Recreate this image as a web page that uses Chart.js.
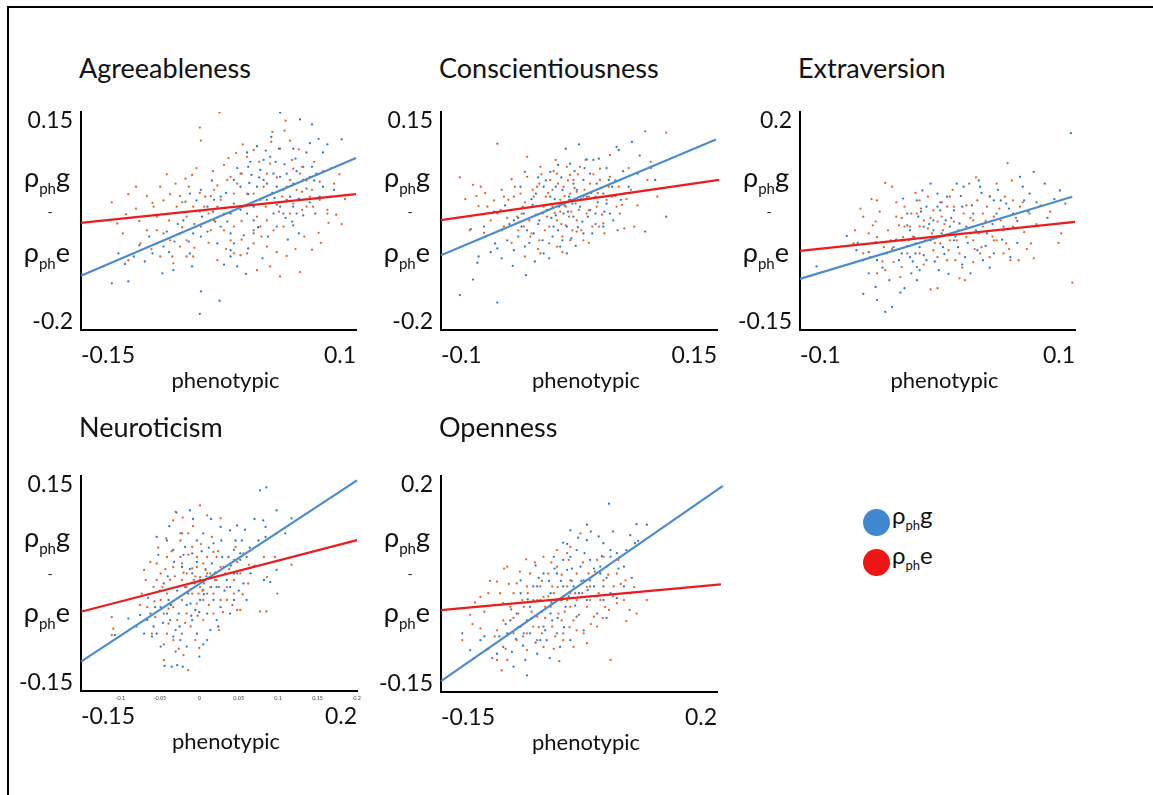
<!DOCTYPE html>
<html><head><meta charset="utf-8">
<script src="https://cdn.jsdelivr.net/npm/chart.js@4.4.0/dist/chart.umd.min.js"></script>
<style>
html,body{margin:0;padding:0;background:#fff;}
body{width:1153px;height:795px;position:relative;overflow:hidden;font-family:Lato,"Open Sans","DejaVu Sans",sans-serif;color:#111;}
.frame{position:absolute;left:7px;top:6px;width:1170px;height:820px;border-top:2px solid #000;border-left:2px solid #000;}
.title{position:absolute;font-size:27px;line-height:32px;white-space:nowrap;}
.rl{position:absolute;width:70px;text-align:right;font-size:27px;line-height:32px;white-space:nowrap;}
.rl .sb,.lg .sb{position:relative;}
.rl .sb{font-size:15px;top:7px;}
.dash{position:absolute;width:20px;text-align:center;font-size:14px;line-height:16px;}
.xt{position:absolute;width:200px;text-align:center;font-size:22px;line-height:26px;white-space:nowrap;}
.dot{position:absolute;width:27px;height:27px;border-radius:50%;}
.lg{position:absolute;font-size:24px;line-height:29px;white-space:nowrap;}
.lg .sb{font-size:13px;top:6px;}
canvas{position:absolute;}
</style></head>
<body>
<div class="frame"></div>
<script>
// ---------- DATA ----------
const titles = ['Agreeableness','Conscientiousness','Extraversion','Neuroticism','Openness'];
const xAxisTitle = 'phenotypic';

const agreeXRange = [-0.15, 0.1],  agreeYRange = [-0.2, 0.15];
const consXRange  = [-0.1, 0.15],  consYRange  = [-0.2, 0.15];
const extraXRange = [-0.1, 0.1],   extraYRange = [-0.15, 0.2];
const neuroXRange = [-0.15, 0.2],  neuroYRange = [-0.15, 0.15];
const openXRange  = [-0.15, 0.2],  openYRange  = [-0.15, 0.2];

const agreeXTicks = ['-0.15','0.1'],  agreeYTicks = ['-0.2','0.15'];
const consXTicks  = ['-0.1','0.15'],  consYTicks  = ['-0.2','0.15'];
const extraXTicks = ['-0.1','0.1'],   extraYTicks = ['-0.15','0.2'];
const neuroXTicks = ['-0.15','0.2'],  neuroYTicks = ['-0.15','0.15'];
const openXTicks  = ['-0.15','0.2'],  openYTicks  = ['-0.15','0.2'];
const neuroMinorTicks = [-0.1,-0.05,0,0.05,0.1,0.15,0.2];

// regression lines [x,y] end points
const agreeLineG = [[-0.15,-0.113],[0.1,0.076]];
const agreeLineE = [[-0.15,-0.028],[0.1,0.018]];
const consLineG  = [[-0.1,-0.080],[0.149,0.106]];
const consLineE  = [[-0.1,-0.0235],[0.152,0.041]];
const extraLineG = [[-0.1,-0.068],[0.098,0.064]];
const extraLineE = [[-0.1,-0.023],[0.1,0.0235]];
const neuroLineG = [[-0.15,-0.109],[0.2,0.144]];
const neuroLineE = [[-0.15,-0.0395],[0.2,0.0605]];
const openLineG  = [[-0.15,-0.1325],[0.2075,0.184]];
const openLineE  = [[-0.15,-0.0173],[0.205,0.0243]];

// scatter points [phenotypic, rho]
const agreeG = [[0.031,0.149],[0.049,0.138],[0.060,0.130],[0.066,0.107],[0.074,0.098],[0.087,0.106],[0.023,0.110],[0.030,0.091],[0.043,0.091],[0.001,0.085],[0.002,0.062],[0.005,0.049],[0.010,0.030],[0.016,0.041],[0.019,0.035],[0.025,0.051],[0.031,0.046],[0.034,0.025],[0.040,0.014],[0.043,-0.002],[0.046,-0.013],[0.042,-0.026],[0.043,-0.032],[0.052,-0.016],[0.063,-0.013],[0.067,0.014],[0.060,0.062],[0.052,0.041],[0.037,0.009],[0.028,0.030],[0.013,0.009],[0.007,-0.002],[0.001,-0.013],[-0.005,-0.007],[-0.011,0.003],[-0.014,-0.013],[-0.017,-0.026],[-0.023,-0.034],[-0.028,-0.026],[-0.035,-0.042],[-0.041,-0.050],[-0.048,-0.045],[-0.052,-0.058],[-0.060,-0.045],[-0.065,-0.058],[-0.072,-0.042],[-0.075,-0.066],[-0.081,-0.061],[-0.085,-0.077],[-0.097,-0.064],[-0.102,-0.082],[-0.116,-0.077],[-0.110,-0.094],[-0.122,-0.125],[-0.107,-0.122],[-0.076,-0.109],[-0.066,-0.104],[-0.049,-0.098],[-0.041,-0.138],[-0.024,-0.153],[-0.042,-0.174],[-0.014,-0.072],[-0.008,-0.098],[0.002,-0.069],[0.007,-0.040],[0.025,-0.013],[0.031,-0.002],[-0.055,0.006],[-0.051,0.019],[-0.041,0.025],[-0.035,-0.002],[-0.023,0.014],[-0.005,0.030],[0.002,0.018],[0.019,0.009],[0.028,-0.034],[0.007,-0.024],[-0.014,-0.045],[-0.026,-0.061],[-0.057,-0.024],[-0.051,-0.077],[-0.014,-0.082],[-0.011,-0.061],[-0.029,0.009],[0.037,0.051],[0.052,0.062],[0.043,0.035],[0.013,0.057],[0.016,0.073],[0.022,0.078],[0.055,0.027],[0.048,0.011],[0.034,-0.013],[0.064,0.051],[-0.004,0.051],[-0.011,0.041],
  [0.010,0.095],[0.018,0.088],[0.027,0.070],[0.035,0.066],[0.045,0.075],[0.055,0.085],[0.062,0.040],[0.070,0.030],[0.058,0.005],[0.048,-0.045],[0.038,-0.055],[0.020,-0.050],[0.012,0.045],[0.004,0.070],[-0.008,0.060],[-0.018,0.020],[-0.030,-0.010],[-0.040,-0.018],[-0.047,-0.030],[-0.062,-0.030],[-0.070,-0.075],[-0.088,-0.050],[-0.092,-0.090],[-0.130,-0.098],[-0.020,-0.095],[0.000,-0.110],[0.015,-0.085],[0.024,0.020],[0.036,-0.020],[0.058,0.100],[0.070,0.085],[0.078,0.060],[-0.031,0.040],[-0.045,0.008],[0.011,-0.035],[0.046,0.055],[0.026,0.012],[0.003,0.036],[-0.002,-0.048],[0.080,0.025]];
const agreeE = [[-0.024,0.149],[-0.042,0.125],[-0.041,0.104],[0.036,0.136],[-0.107,0.018],[-0.122,0.005],[-0.109,-0.014],[-0.117,-0.029],[-0.107,-0.088],[-0.097,-0.025],[-0.085,0.004],[-0.078,0.030],[-0.069,0.018],[-0.060,0.015],[-0.055,0.043],[-0.049,0.049],[-0.042,0.020],[-0.042,-0.010],[-0.037,0.014],[-0.032,0.015],[-0.026,0.032],[-0.023,0.009],[-0.014,0.046],[-0.009,0.084],[-0.016,0.076],[-0.005,0.051],[0.001,0.019],[0.007,0.019],[0.016,0.030],[0.023,0.102],[0.024,0.118],[0.031,0.091],[0.040,0.104],[0.042,0.073],[0.043,0.059],[0.051,0.062],[0.058,0.014],[0.067,0.038],[0.075,-0.028],[0.087,-0.030],[0.066,-0.044],[0.060,-0.071],[0.049,-0.107],[0.031,-0.114],[0.037,-0.081],[0.019,-0.066],[0.007,-0.045],[0.001,-0.077],[-0.005,-0.080],[-0.011,-0.077],[-0.014,-0.056],[-0.020,-0.040],[-0.029,-0.024],[-0.034,-0.013],[-0.041,-0.034],[-0.054,-0.056],[-0.060,-0.066],[-0.069,-0.056],[-0.075,-0.045],[-0.081,-0.018],[-0.090,-0.040],[-0.096,-0.061],[-0.078,-0.082],[-0.067,-0.082],[-0.054,-0.082],[-0.048,-0.082],[-0.066,-0.093],[-0.026,-0.088],[0.010,-0.104],[0.022,-0.098],[0.034,-0.034],[0.040,-0.013],[0.043,0.003],[0.051,-0.007],[0.055,-0.002],[-0.011,0.019],[-0.008,0.035],[0.004,0.003],[0.010,-0.018],[0.018,-0.002],[0.028,0.001],[0.033,0.014],[0.037,0.030],[0.046,0.025],[0.051,0.022],[0.061,-0.002],[0.067,0.009],[0.074,-0.013],[0.013,-0.034],[0.019,-0.024],[0.025,-0.040],[0.007,-0.061],[-0.011,-0.034],[-0.020,-0.013],[-0.026,-0.002],[-0.038,-0.002],[-0.048,-0.002],[-0.054,-0.018],[-0.063,-0.002],[-0.070,-0.024],[-0.081,-0.040],[-0.084,-0.002],[0.019,0.051],[0.022,0.067],[-0.017,0.041],[0.001,0.078],[-0.029,0.025],[0.007,0.089],[0.040,0.041],[0.049,0.051],[0.058,0.046],[0.074,-0.007],[0.077,0.014],
  [-0.100,0.030],[-0.090,0.015],[-0.072,0.050],[-0.064,0.035],[-0.052,0.030],[-0.045,0.060],[-0.030,0.055],[-0.020,0.065],[-0.003,0.098],[0.012,0.070],[0.028,0.045],[0.035,0.120],[0.048,0.090],[0.055,0.040],[0.062,0.070],[0.070,0.055],[0.080,0.035],[0.090,0.010],[0.082,-0.015],[0.068,-0.060],[0.053,-0.050],[0.045,-0.070],[0.028,-0.075],[0.014,-0.050],[-0.004,-0.055],[-0.018,-0.070],[-0.034,-0.060],[-0.047,-0.068],[-0.058,-0.035],[-0.086,-0.070],[-0.112,-0.045],[-0.100,-0.005],[-0.075,0.008],[-0.058,0.005],[-0.032,-0.040],[-0.004,-0.025],[0.015,0.012],[0.030,-0.010],[0.060,0.025],[0.085,0.050]];

const consG = [[-0.083,-0.144],[-0.071,-0.119],[-0.049,-0.156],[-0.023,-0.112],[-0.035,-0.097],[-0.066,-0.082],[-0.067,-0.092],[-0.051,-0.061],[-0.049,-0.069],[-0.061,-0.034],[-0.073,-0.038],[-0.045,-0.040],[-0.040,-0.056],[-0.034,-0.072],[-0.030,-0.050],[-0.025,-0.013],[-0.022,-0.040],[-0.017,0.001],[-0.014,0.019],[-0.011,-0.024],[-0.008,-0.056],[-0.007,0.030],[-0.004,-0.007],[-0.001,0.014],[0.002,-0.034],[0.004,0.030],[0.007,-0.002],[0.008,-0.066],[0.010,0.025],[0.011,-0.013],[0.013,0.091],[0.014,-0.034],[0.016,0.014],[0.018,-0.053],[0.019,0.003],[0.020,-0.018],[0.023,0.025],[0.025,0.098],[0.026,-0.002],[0.028,-0.026],[0.032,0.074],[0.032,0.014],[0.035,-0.007],[0.037,-0.045],[0.038,0.073],[0.041,0.035],[0.043,0.075],[0.047,-0.034],[0.052,0.041],[0.053,-0.013],[0.056,-0.024],[0.059,0.094],[0.061,0.089],[0.063,0.009],[0.073,0.102],[0.078,0.051],[0.085,-0.042],[0.094,0.041],[0.104,-0.018],[-0.024,0.054],[-0.002,-0.085],[-0.024,-0.066],[-0.016,-0.045],[0.004,-0.016],[0.017,0.009],[0.029,0.041],[0.035,0.051],[0.047,0.019],[0.055,0.030],[0.066,0.019],[0.020,0.035],[0.010,-0.056],[-0.007,-0.077],[-0.027,-0.034],[-0.034,-0.024],[0.017,0.067],[-0.001,0.054],[0.040,-0.013],[0.050,0.003],[0.029,-0.045],[0.014,-0.077],
  [-0.060,-0.050],[-0.055,-0.075],[-0.045,-0.085],[-0.038,-0.030],[-0.030,-0.020],[-0.020,-0.060],[-0.018,0.010],[-0.012,-0.030],[-0.005,0.040],[0.000,-0.020],[0.003,0.010],[0.006,-0.040],[0.009,0.045],[0.012,0.000],[0.015,-0.010],[0.021,0.055],[0.024,-0.035],[0.027,0.010],[0.030,0.060],[0.033,-0.018],[0.036,0.020],[0.042,0.005],[0.045,0.028],[0.050,0.060],[0.058,0.040],[0.065,0.055],[0.070,0.030],[0.080,0.080],[0.090,0.060],[-0.042,0.000],[-0.028,0.030],[-0.012,0.045],[0.001,-0.050],[0.022,-0.065],[0.040,-0.030],[-0.052,-0.010],[0.048,-0.010],[0.060,-0.040],[-0.015,-0.090],[0.006,0.065]];
const consE = [[-0.083,0.045],[-0.049,0.099],[0.085,0.119],[0.104,0.117],[-0.071,0.033],[-0.064,0.030],[-0.066,-0.001],[-0.074,-0.040],[-0.061,-0.044],[-0.055,-0.024],[-0.046,-0.007],[-0.043,-0.034],[-0.039,0.009],[-0.036,0.042],[-0.031,-0.018],[-0.028,0.019],[-0.026,-0.002],[-0.025,-0.034],[-0.022,0.046],[-0.020,-0.024],[-0.018,-0.045],[-0.013,0.030],[-0.011,-0.056],[-0.010,0.062],[-0.008,-0.013],[-0.005,0.014],[-0.002,-0.034],[-0.001,0.041],[0.001,-0.002],[0.004,0.073],[0.005,-0.024],[0.008,0.009],[0.010,-0.050],[0.011,0.030],[0.013,-0.002],[0.014,0.062],[0.016,-0.018],[0.017,0.019],[0.019,-0.040],[0.020,0.041],[0.022,0.003],[0.023,-0.024],[0.026,0.062],[0.029,0.014],[0.031,0.073],[0.032,-0.013],[0.035,0.035],[0.037,-0.034],[0.040,0.014],[0.044,0.041],[0.047,-0.029],[0.053,0.081],[0.055,0.014],[0.059,-0.002],[0.062,-0.013],[0.066,-0.037],[0.075,-0.034],[0.087,0.041],[0.096,0.014],[-0.010,-0.077],[-0.002,-0.061],[-0.024,-0.082],[0.005,-0.066],[0.017,-0.056],[0.029,-0.056],[-0.016,0.014],[-0.034,0.014],[-0.049,-0.013],[-0.058,-0.002],[-0.027,-0.013],[-0.007,-0.002],[0.008,-0.010],[0.016,0.009],[0.025,-0.007],[0.034,0.014],[0.041,-0.002],[0.050,0.009],[0.064,0.001],[0.005,0.051],[0.017,0.049],[-0.022,0.078],[-0.011,0.035],[0.001,0.025],[0.023,0.022],[0.044,0.059],[0.053,0.046],[-0.043,0.014],[0.061,0.030],[0.072,0.025],[0.043,-0.034],[-0.019,-0.050],[-0.004,-0.018],[0.013,-0.032],[0.023,-0.042],
  [-0.078,0.010],[-0.068,0.015],[-0.060,0.020],[-0.052,0.008],[-0.045,0.025],[-0.040,-0.020],[-0.033,0.030],[-0.030,-0.040],[-0.024,0.005],[-0.017,0.025],[-0.014,-0.015],[-0.009,0.050],[-0.006,-0.040],[-0.003,0.020],[0.002,0.055],[0.003,-0.012],[0.006,0.035],[0.009,-0.030],[0.012,0.015],[0.015,0.040],[0.018,-0.010],[0.021,0.028],[0.024,0.050],[0.027,-0.040],[0.030,0.025],[0.034,-0.008],[0.038,0.050],[0.042,0.020],[0.046,-0.015],[0.052,0.030],[0.058,0.015],[0.068,0.010],[0.078,0.000],[0.090,0.070],[0.070,0.060],[-0.036,-0.060],[-0.012,-0.070],[0.010,-0.075],[0.034,-0.060],[0.048,-0.045]];

const extraG = [[-0.066,0.001],[-0.059,-0.022],[-0.054,-0.038],[-0.050,-0.059],[-0.045,-0.081],[-0.054,-0.092],[-0.044,-0.102],[-0.038,-0.121],[-0.033,-0.113],[-0.024,-0.083],[-0.019,-0.059],[-0.015,-0.049],[-0.013,-0.054],[-0.044,-0.038],[-0.037,-0.027],[-0.032,-0.017],[-0.028,-0.038],[-0.026,-0.006],[-0.025,0.061],[-0.022,0.037],[-0.020,-0.033],[-0.017,-0.001],[-0.014,0.032],[-0.013,-0.017],[-0.010,0.016],[-0.008,0.048],[-0.005,-0.006],[-0.003,0.026],[0.000,0.069],[0.001,-0.054],[0.002,0.042],[0.004,-0.017],[0.007,0.064],[0.009,0.016],[0.012,-0.006],[0.014,0.085],[0.015,-0.017],[0.018,0.048],[0.019,0.080],[0.021,0.016],[0.024,-0.059],[0.029,-0.022],[0.031,0.080],[0.033,-0.038],[0.036,0.005],[0.038,0.064],[0.041,0.058],[0.043,0.037],[0.046,0.058],[0.048,0.016],[0.050,0.053],[0.053,-0.033],[0.055,0.037],[0.060,0.096],[0.063,0.058],[0.067,0.069],[0.070,0.104],[0.089,0.074],[0.093,0.053],[0.097,0.166],[-0.088,-0.048],[0.000,0.048],[-0.022,0.018],[-0.008,-0.038],[0.012,0.042],[0.026,0.037],[-0.015,0.058],[0.006,0.026],[0.020,-0.033],[0.041,-0.027],[-0.016,-0.027],[-0.003,0.010],[0.016,0.021],[-0.026,-0.027],[-0.011,0.074],[0.003,0.005],
  [-0.058,-0.010],[-0.050,-0.025],[-0.040,-0.050],[-0.035,-0.070],[-0.030,-0.005],[-0.027,-0.090],[-0.020,0.010],[-0.018,-0.040],[-0.012,0.040],[-0.010,-0.030],[-0.006,0.020],[-0.002,-0.040],[0.003,0.055],[0.005,-0.028],[0.010,0.030],[0.013,0.000],[0.017,0.065],[0.022,-0.010],[0.025,0.050],[0.028,0.010],[0.032,0.070],[0.035,-0.015],[0.040,0.020],[0.044,0.075],[0.047,-0.005],[0.052,0.045],[0.058,0.025],[0.062,0.080],[0.066,0.040],[0.072,0.055],[0.078,0.085],[0.080,0.030],[0.085,0.060],[-0.005,0.085],[0.008,-0.060],[0.018,-0.045],[0.038,-0.050],[-0.015,-0.070],[0.058,-0.010],[0.030,0.090]];
const extraE = [[-0.038,0.086],[-0.033,0.080],[-0.044,0.058],[-0.054,0.032],[-0.060,0.010],[-0.045,0.024],[-0.044,-0.001],[-0.045,-0.009],[-0.054,-0.027],[-0.049,-0.033],[-0.044,-0.059],[-0.038,-0.054],[-0.032,-0.041],[-0.027,-0.065],[-0.026,-0.049],[-0.022,-0.027],[-0.030,0.032],[-0.028,0.018],[-0.024,0.048],[-0.020,0.016],[-0.015,0.037],[-0.013,0.058],[-0.010,0.026],[-0.009,-0.006],[-0.007,0.013],[-0.003,0.042],[0.000,0.024],[0.000,-0.033],[0.002,-0.011],[0.004,0.010],[0.007,0.048],[0.009,0.064],[0.012,0.024],[0.014,-0.006],[0.016,-0.027],[0.019,0.037],[0.023,0.085],[0.024,0.005],[0.026,0.026],[0.029,0.058],[0.032,-0.017],[0.033,0.016],[0.036,0.048],[0.041,-0.006],[0.043,0.085],[0.046,0.026],[0.049,0.064],[0.050,-0.011],[0.051,0.118],[0.054,0.090],[0.055,0.016],[0.060,0.048],[0.063,0.007],[0.067,0.037],[0.070,-0.035],[0.068,-0.011],[0.090,0.005],[0.098,-0.074],[-0.005,-0.085],[0.000,-0.083],[0.016,-0.067],[0.020,-0.070],[-0.021,-0.006],[-0.016,-0.011],[-0.013,-0.027],[-0.003,-0.022],[0.007,-0.038],[0.013,-0.038],[0.026,-0.041],[0.031,-0.027],[0.038,-0.033],[0.043,-0.006],[-0.039,-0.017],[-0.034,-0.006],[-0.025,-0.001],[-0.019,0.037],[-0.004,0.005],[0.003,0.032],[0.009,-0.006],[0.021,-0.001],[0.033,0.037],[0.041,0.032],[0.048,-0.027],[0.053,-0.038],[0.059,-0.038],[-0.013,0.016],[-0.007,0.064],[0.012,0.048],[0.026,-0.006],[0.055,0.058],[-0.024,0.016],[-0.047,0.018],[-0.061,-0.011],
  [-0.056,0.045],[-0.050,0.005],[-0.042,0.040],[-0.040,-0.040],[-0.036,0.010],[-0.033,-0.020],[-0.030,0.055],[-0.026,0.030],[-0.022,-0.015],[-0.018,0.000],[-0.016,0.070],[-0.012,0.045],[-0.010,-0.045],[-0.005,0.030],[-0.002,-0.010],[0.002,0.055],[0.005,0.020],[0.008,-0.022],[0.011,0.075],[0.015,0.010],[0.018,-0.050],[0.021,0.050],[0.024,0.030],[0.027,-0.020],[0.030,0.005],[0.035,0.025],[0.038,0.065],[0.040,0.000],[0.045,0.045],[0.048,0.010],[0.052,-0.020],[0.057,0.030],[0.062,0.055],[0.065,-0.020],[0.072,0.020],[0.075,0.050],[0.082,0.040],[0.088,-0.010],[-0.048,0.060],[0.028,0.095]];

const neuroG = [[0.077,0.130],[0.085,0.134],[-0.029,0.099],[-0.012,0.102],[-0.054,0.065],[-0.041,0.060],[-0.033,0.047],[-0.018,0.051],[-0.009,0.042],[-0.003,0.060],[0.005,0.070],[0.018,0.056],[0.027,0.079],[0.039,0.074],[0.048,0.081],[0.052,0.042],[0.060,0.037],[0.081,0.088],[0.084,0.079],[0.084,0.065],[0.098,0.102],[0.098,0.070],[0.109,0.070],[0.117,0.091],[0.082,0.005],[0.090,0.002],[0.098,0.019],[-0.090,-0.049],[-0.070,-0.070],[-0.062,-0.042],[-0.060,-0.074],[-0.054,-0.070],[-0.049,-0.033],[-0.045,0.000],[-0.039,-0.023],[-0.037,-0.051],[-0.033,-0.074],[-0.030,-0.065],[-0.026,-0.042],[-0.024,-0.079],[-0.021,-0.116],[-0.028,-0.114],[-0.035,-0.116],[-0.044,-0.115],[-0.018,-0.005],[-0.014,-0.014],[-0.009,-0.051],[-0.005,-0.037],[0.000,-0.102],[0.001,-0.023],[0.005,-0.009],[0.010,-0.042],[0.014,-0.065],[0.018,-0.023],[0.022,-0.005],[0.027,-0.033],[0.031,0.023],[0.035,0.005],[0.039,-0.005],[0.044,-0.023],[0.048,0.014],[0.052,0.033],[0.056,0.000],[0.060,-0.023],[0.065,0.014],[-0.107,-0.072],[-0.075,-0.044],[-0.066,-0.051],[-0.056,-0.033],[-0.041,-0.042],[-0.011,-0.028],[0.001,0.005],[0.008,0.019],[0.016,0.028],[0.029,0.037],[0.037,0.037],[0.044,0.047],[0.054,0.060],[0.069,0.023],[0.039,-0.042],[-0.003,-0.070],[0.010,-0.079],[-0.016,-0.088],[-0.049,-0.088],[0.022,-0.051],[0.044,0.014],[-0.009,0.014],[-0.022,0.023],
  [-0.065,-0.020],[-0.058,-0.060],[-0.050,-0.010],[-0.046,-0.055],[-0.040,0.010],[-0.036,-0.030],[-0.032,0.030],[-0.028,-0.010],[-0.025,-0.060],[-0.020,0.040],[-0.016,-0.030],[-0.012,0.020],[-0.010,-0.045],[-0.006,0.000],[-0.003,0.030],[0.000,-0.040],[0.003,0.045],[0.006,-0.015],[0.009,0.010],[0.012,0.050],[0.015,-0.005],[0.020,0.015],[0.024,-0.060],[0.028,0.060],[0.032,-0.010],[0.040,0.025],[0.046,0.060],[0.050,-0.010],[0.058,0.075],[0.064,0.050],[0.070,0.090],[0.075,0.060],[-0.052,0.040],[-0.038,0.080],[-0.022,0.070],[-0.008,0.090],[0.015,0.090],[-0.080,-0.060],[-0.030,-0.095],[0.005,-0.085]];
const neuroE = [[0.001,0.109],[-0.021,0.092],[-0.033,0.088],[0.027,0.091],[-0.042,0.063],[-0.024,0.060],[-0.014,0.070],[-0.009,0.051],[-0.003,0.037],[-0.070,0.019],[-0.054,0.028],[-0.041,0.037],[-0.033,0.023],[-0.022,0.028],[-0.016,0.014],[-0.009,0.021],[-0.003,0.023],[0.001,0.009],[0.005,0.028],[0.010,0.037],[0.014,0.014],[0.018,0.044],[0.022,0.005],[0.027,0.023],[0.035,-0.005],[0.044,0.033],[0.052,0.014],[0.063,0.026],[0.082,0.037],[0.086,0.009],[0.096,0.037],[0.099,-0.014],[0.117,0.026],[-0.073,-0.014],[-0.066,-0.033],[-0.058,-0.005],[-0.049,-0.023],[-0.045,-0.042],[-0.041,-0.014],[-0.033,-0.033],[-0.028,-0.051],[-0.022,-0.023],[-0.016,-0.042],[-0.009,-0.014],[-0.003,-0.028],[0.001,-0.005],[0.005,-0.023],[0.010,-0.014],[0.018,-0.014],[0.027,-0.023],[0.035,-0.023],[0.044,-0.014],[0.048,-0.037],[0.052,-0.037],[0.077,-0.039],[0.085,-0.039],[-0.041,-0.070],[-0.033,-0.079],[-0.045,-0.107],[-0.026,-0.091],[-0.014,-0.121],[-0.111,-0.047],[-0.109,-0.063],[-0.111,-0.072],[-0.022,0.005],[-0.007,0.005],[0.006,0.000],[-0.001,-0.014],[0.014,-0.005],[0.025,-0.005],[0.033,0.014],[0.044,0.005],[-0.054,0.005],[-0.037,0.005],[-0.028,-0.005],[-0.049,0.014],[-0.016,-0.005],[-0.024,0.037],[0.010,0.014],[0.022,0.037],[0.046,0.051],[0.056,0.042],[-0.011,-0.060],[-0.005,-0.079],[0.005,-0.051],[0.018,-0.042],[-0.039,-0.056],[-0.022,-0.070],[-0.056,-0.047],
  [-0.068,0.005],[-0.062,0.030],[-0.057,-0.025],[-0.052,0.050],[-0.047,-0.005],[-0.043,0.020],[-0.039,-0.035],[-0.035,0.045],[-0.031,0.010],[-0.027,-0.020],[-0.024,0.070],[-0.020,0.015],[-0.018,-0.055],[-0.014,0.040],[-0.011,-0.008],[-0.008,0.080],[-0.005,0.010],[-0.002,-0.045],[0.002,0.055],[0.004,-0.010],[0.008,0.020],[0.012,-0.030],[0.016,0.065],[0.020,0.005],[0.024,0.045],[0.030,-0.040],[0.038,0.020],[0.042,-0.030],[0.048,0.030],[0.055,-0.015],[0.062,0.000],[0.070,0.025],[-0.075,-0.030],[-0.060,-0.070],[-0.045,-0.085],[-0.020,-0.100],[0.000,-0.090],[0.025,-0.065],[-0.030,0.100],[0.010,0.095]];

const openG = [[0.063,0.155],[0.035,0.121],[0.014,0.112],[0.005,0.092],[0.035,0.096],[0.050,0.102],[0.065,0.080],[0.090,0.104],[0.098,0.122],[0.111,0.121],[0.096,0.091],[0.065,0.069],[0.073,0.075],[0.082,0.053],[0.052,0.042],[0.039,0.064],[0.022,0.080],[0.014,0.069],[0.010,0.048],[-0.003,0.042],[0.005,0.021],[0.031,0.031],[0.056,0.021],[0.073,0.002],[0.003,-0.001],[-0.005,-0.001],[-0.011,-0.023],[-0.020,-0.044],[-0.024,-0.001],[-0.028,0.021],[-0.037,-0.012],[-0.041,-0.034],[-0.045,-0.055],[-0.049,-0.044],[-0.055,-0.064],[-0.062,-0.034],[-0.066,-0.055],[-0.071,-0.077],[-0.079,-0.088],[-0.090,-0.080],[-0.100,-0.066],[-0.113,-0.082],[-0.123,-0.055],[-0.109,-0.096],[-0.058,-0.109],[-0.041,-0.123],[-0.043,-0.098],[-0.028,-0.088],[-0.016,-0.066],[-0.003,-0.055],[0.014,-0.066],[0.022,-0.028],[0.035,-0.001],[0.048,-0.023],[0.056,-0.001],[0.065,0.010],[0.039,0.031],[0.018,0.021],[-0.011,0.010],[-0.020,0.042],[-0.033,0.021],[-0.049,0.010],[-0.061,-0.016],[-0.054,-0.023],[-0.037,-0.055],[-0.009,-0.034],[0.008,-0.012],[0.025,0.010],[0.044,0.021],[0.027,0.053],[-0.007,0.069],[0.014,0.031],[-0.049,0.031],[0.056,0.091],[0.082,0.021],[-0.024,-0.066],[0.001,-0.077],[0.031,-0.050],[0.052,0.053],[0.005,0.064],
  [-0.095,-0.060],[-0.085,-0.095],[-0.076,-0.060],[-0.068,-0.040],[-0.060,-0.085],[-0.052,-0.045],[-0.046,-0.075],[-0.040,0.000],[-0.035,-0.030],[-0.030,-0.070],[-0.026,0.035],[-0.022,-0.020],[-0.018,-0.050],[-0.013,0.030],[-0.010,-0.005],[-0.006,0.050],[-0.002,-0.030],[0.002,0.030],[0.006,-0.045],[0.010,0.090],[0.012,0.005],[0.016,0.050],[0.020,-0.010],[0.024,0.100],[0.028,0.030],[0.032,0.075],[0.036,0.015],[0.040,0.110],[0.044,0.050],[0.048,0.005],[0.054,0.070],[0.060,0.035],[0.068,0.110],[0.075,0.050],[0.085,0.080],[0.092,0.035],[0.100,0.095],[0.060,-0.030],[-0.030,0.055],[-0.012,-0.095]];
const openE = [[-0.066,0.053],[-0.042,0.065],[-0.079,0.029],[-0.090,0.010],[-0.100,0.004],[-0.107,-0.005],[-0.113,-0.025],[-0.123,-0.066],[-0.100,-0.047],[-0.079,-0.050],[-0.071,-0.034],[-0.062,-0.012],[-0.058,0.010],[-0.052,-0.023],[-0.047,-0.001],[-0.041,0.021],[-0.037,0.042],[-0.033,-0.001],[-0.028,-0.028],[-0.024,0.021],[-0.022,-0.055],[-0.018,-0.012],[-0.014,0.042],[-0.009,-0.044],[-0.007,0.010],[-0.003,0.053],[-0.001,-0.023],[0.001,-0.001],[0.005,-0.055],[0.010,0.021],[0.012,0.064],[0.014,-0.012],[0.018,-0.034],[0.022,0.042],[0.027,0.107],[0.029,0.010],[0.031,-0.055],[0.035,-0.012],[0.037,0.042],[0.039,0.021],[0.044,-0.028],[0.048,0.064],[0.052,-0.001],[0.056,0.031],[0.058,-0.012],[0.063,-0.017],[0.065,-0.098],[0.069,0.021],[0.073,0.042],[0.075,0.064],[0.082,-0.001],[0.084,0.031],[0.090,0.010],[0.098,-0.023],[0.111,-0.001],[0.089,-0.017],[-0.092,-0.081],[-0.079,-0.098],[-0.073,-0.115],[-0.066,-0.098],[-0.054,-0.066],[-0.041,-0.082],[-0.028,-0.066],[-0.020,-0.077],[-0.007,-0.080],[0.005,-0.066],[0.018,-0.077],[0.035,-0.071],[-0.033,-0.044],[-0.045,-0.012],[-0.054,0.026],[-0.003,0.080],[0.014,0.085],[-0.020,0.069],[0.014,0.010],[0.022,-0.001],[0.039,-0.001],[0.056,0.069],[0.073,-0.006],[-0.058,-0.055],[-0.028,-0.001],[-0.011,-0.012],[0.003,-0.034],[0.022,-0.050],[0.048,-0.044],[-0.071,-0.006],[-0.041,-0.055],[-0.020,0.004],[0.010,-0.001],[-0.009,0.021],[0.060,0.053],
  [-0.110,-0.040],[-0.095,-0.020],[-0.088,0.030],[-0.082,-0.060],[-0.075,0.010],[-0.068,-0.080],[-0.064,0.025],[-0.058,-0.030],[-0.050,0.045],[-0.046,-0.060],[-0.040,0.010],[-0.035,-0.020],[-0.031,0.060],[-0.026,-0.045],[-0.022,0.030],[-0.018,-0.030],[-0.014,0.005],[-0.010,0.060],[-0.005,-0.060],[-0.002,0.020],[0.003,0.040],[0.007,-0.020],[0.010,0.075],[0.013,-0.045],[0.016,0.030],[0.020,0.010],[0.025,-0.025],[0.030,0.060],[0.035,0.020],[0.040,-0.040],[0.045,0.045],[0.050,0.010],[0.055,-0.030],[0.062,0.040],[0.068,0.005],[0.078,0.025],[0.085,-0.035],[0.095,0.020],[-0.070,0.050],[0.000,-0.100]];

// ---------- STYLE ----------
const FONT = 'Lato, "Open Sans", "DejaVu Sans", sans-serif';
const C_BLUE_DOT = '#2f78c2', C_RED_DOT = '#e0622e';
const C_BLUE_LINE = '#4a8ccd', C_RED_LINE = '#ea1c1c';
Chart.defaults.font.family = FONT;

const panels = [
  {t:titles[0], b:{L:81,T:112,R:356,B:330}, row:0, xr:agreeXRange, yr:agreeYRange, xt:agreeXTicks, yt:agreeYTicks, G:agreeG, E:agreeE, lG:agreeLineG, lE:agreeLineE},
  {t:titles[1], b:{L:441,T:112,R:717,B:330}, row:0, xr:consXRange, yr:consYRange, xt:consXTicks, yt:consYTicks, G:consG, E:consE, lG:consLineG, lE:consLineE},
  {t:titles[2], b:{L:800,T:112,R:1075,B:330}, row:0, xr:extraXRange, yr:extraYRange, xt:extraXTicks, yt:extraYTicks, G:extraG, E:extraE, lG:extraLineG, lE:extraLineE},
  {t:titles[3], b:{L:81,T:476,R:357,B:691}, row:1, xr:neuroXRange, yr:neuroYRange, xt:neuroXTicks, yt:neuroYTicks, G:neuroG, E:neuroE, lG:neuroLineG, lE:neuroLineE, minor:neuroMinorTicks},
  {t:titles[4], b:{L:441,T:476,R:717,B:692}, row:1, xr:openXRange, yr:openYRange, xt:openXTicks, yt:openYTicks, G:openG, E:openE, lG:openLineG, lE:openLineE},
];

const pts = a => a.map(p => ({x:p[0], y:p[1]}));

function addDiv(cls, html, left, top) {
  const d = document.createElement('div');
  d.className = cls; d.innerHTML = html;
  d.style.left = left + 'px'; d.style.top = top + 'px';
  document.body.appendChild(d);
  return d;
}

const PADL = 75, PADT = 10, PADR = 14, XH = 45, MINH = 14;
const TICKFONT = {family:FONT, size:23, lineHeight:0.74};

panels.forEach(p => {
  const b = p.b;
  const w = b.R - b.L + PADL + PADR, h = b.B - b.T + PADT + XH;
  const cv = document.createElement('canvas');
  cv.width = w; cv.height = h;
  cv.style.left = (b.L - PADL) + 'px'; cv.style.top = (b.T - PADT) + 'px';
  cv.style.width = w + 'px'; cv.style.height = h + 'px';
  document.body.appendChild(cv);

  const hasMinor = !!p.minor;
  const scales = {
    x: {
      type:'linear', axis:'x', position:'bottom', weight:10, min:p.xr[0], max:p.xr[1],
      grid:{display:false, drawTicks:false},
      border:{display:!hasMinor, color:'#000', width:2},
      afterBuildTicks: s => { s.ticks = [{value:p.xr[0]},{value:p.xr[1]}]; },
      afterFit: s => { s.height = hasMinor ? XH - MINH : XH; s.paddingLeft = 0; s.paddingRight = 0; },
      ticks:{align:'inner', autoSkip:false, maxRotation:0, minRotation:0, padding: hasMinor ? 3.5 : 17.5,
             color:'#111', font:TICKFONT, callback:(v,i) => p.xt[i]}
    },
    y: {
      type:'linear', axis:'y', position:'left', min:p.yr[0], max:p.yr[1],
      grid:{display:false, drawTicks:false},
      border:{display:true, color:'#000', width:2},
      afterBuildTicks: s => { s.ticks = [{value:p.yr[0]},{value:p.yr[1]}]; },
      afterFit: s => { s.width = PADL; s.paddingTop = 0; s.paddingBottom = 0; },
      ticks:{autoSkip:false, padding:8, color:'#111', font:TICKFONT,
             callback:(v,i) => i === 0 ? [p.yt[0], ''] : ['', p.yt[1]]}
    }
  };
  if (hasMinor) {
    scales.x2 = {
      type:'linear', axis:'x', position:'bottom', weight:0, min:p.xr[0], max:p.xr[1],
      grid:{display:false, drawTicks:false},
      border:{display:true, color:'#000', width:2},
      afterBuildTicks: s => { s.ticks = p.minor.map(v => ({value:v})); },
      afterFit: s => { s.height = MINH; s.paddingLeft = 0; s.paddingRight = 0; },
      ticks:{autoSkip:false, maxRotation:0, minRotation:0, padding:3.5, color:'#444',
             font:{family:FONT, size:5.5}, callback:v => String(v)}
    };
  }

  new Chart(cv, {
    type:'scatter',
    data:{datasets:[
      {data:pts(p.lE), showLine:true, borderColor:C_RED_LINE, borderWidth:2.2, pointRadius:0, clip:false},
      {data:pts(p.lG), showLine:true, borderColor:C_BLUE_LINE, borderWidth:2.2, pointRadius:0, clip:false},
      {data:pts(p.E), pointRadius:1.15, backgroundColor:C_RED_DOT, borderWidth:0},
      {data:pts(p.G), pointRadius:1.15, backgroundColor:C_BLUE_DOT, borderWidth:0}
    ]},
    options:{
      responsive:false, animation:false, devicePixelRatio:1, events:[],
      layout:{padding:{top:PADT, right:PADR, left:0, bottom:0}},
      plugins:{legend:{display:false}, tooltip:{enabled:false}, title:{display:false}},
      scales
    }
  });

  // text around the axes
  const tBase = p.row === 0 ? b.T - 33.5 : b.T - 38.5;
  addDiv('title', p.t, b.L - 2, tBase - 26.4);
  const gBase = b.T + (p.row === 0 ? 75 : 71);
  const eBase = b.T + (p.row === 0 ? 150 : 146);
  const dC = b.T + (p.row === 0 ? 101 : 99);
  addDiv('rl', 'ρ<span class="sb">ph</span>g', b.L - 11 - 70, gBase - 26.5);
  addDiv('dash', '-', b.L - 31 - 10, dC - 9.4);
  addDiv('rl', 'ρ<span class="sb">ph</span>e', b.L - 11 - 70, eBase - 26.5);
  addDiv('xt', xAxisTitle, (b.L + b.R) / 2 + 7 - 100, b.B + 58 - 21.5);
});

// legend
const legendItems = [
  {html:'ρ<span class="sb">ph</span>g', color:'#3f88cf', cy:522, base:524},
  {html:'ρ<span class="sb">ph</span>e', color:'#f01414', cy:562, base:564}
];
legendItems.forEach(it => {
  const d = addDiv('dot', '', 876 - 13.5, it.cy - 13.5);
  d.style.background = it.color;
  addDiv('lg', it.html, 892, it.base - 23.7);
});
</script>
</body></html>
